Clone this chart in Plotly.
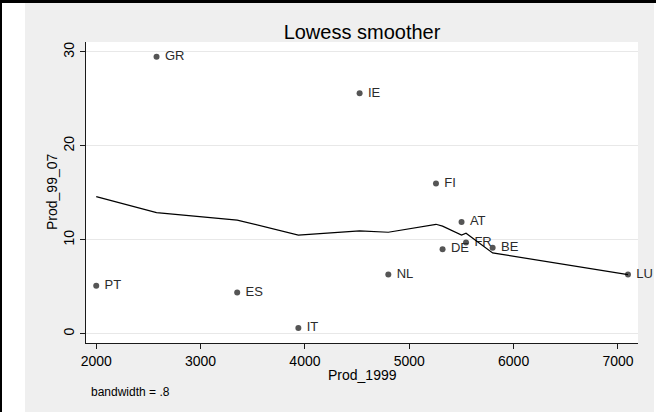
import plotly.graph_objects as go

# Labour productivity level in 1999 vs growth 1999-2007, by country
countries = ["PT", "GR", "ES", "IT", "IE", "NL", "FI", "DE", "AT", "FR", "BE", "LU"]
prod_1999 = [2000, 2578, 3351, 3937, 4524, 4799, 5256, 5319, 5501, 5544, 5799, 7096]
prod_99_07 = [5.1, 29.5, 4.4, 0.6, 25.6, 6.3, 16.0, 9.0, 11.9, 9.7, 9.15, 6.3]
# Lowess fit (bandwidth .8) evaluated at each country
lowess_fit = [14.6, 12.9, 12.1, 10.5, 10.95, 10.8, 11.65, 11.45, 10.5, 10.7, 8.6, 6.3]

x_ticks = [2000, 3000, 4000, 5000, 6000, 7000]
y_ticks = [0, 10, 20, 30]

W, H = 656, 412
ML, MR, MT, MB = 86, 18, 42, 69
PW, PH = W - ML - MR, H - MT - MB

FONT = "Liberation Sans, Arial, Helvetica, sans-serif"
BG = "#EFEFEF"


def px(x):
    return (x - ML) / PW


def py(y):
    return (H - MB - y) / PH


fig = go.Figure()

fig.add_trace(go.Scatter(
    x=prod_1999, y=prod_99_07, mode="markers+text",
    text=["\u00a0" + c for c in countries], textposition="middle right",
    textfont=dict(family=FONT, size=13, color="#2b2b2b"),
    marker=dict(size=6, color="#555555"),
    cliponaxis=False, showlegend=False,
))

fig.add_trace(go.Scatter(
    x=prod_1999, y=lowess_fit, mode="lines",
    line=dict(color="#000000", width=1.2),
    showlegend=False,
))

axis_common = dict(
    showline=True, linecolor="#1a1a1a", linewidth=1,
    ticks="outside", ticklen=5, tickwidth=1, tickcolor="#1a1a1a",
    tickfont=dict(family=FONT, size=14, color="#000000"),
    zeroline=False, mirror=False,
)

fig.update_xaxes(
    range=[1902, 7192], tickvals=x_ticks, showgrid=False, **axis_common,
)
fig.update_yaxes(
    range=[-0.99, 31.06], tickvals=y_ticks, showgrid=True,
    gridcolor="#E8E8E8", gridwidth=1, tickangle=-90, **axis_common,
)

shapes = [
    # white strip on the left edge
    dict(type="rect", xref="paper", yref="paper", layer="above",
         x0=px(0), x1=px(25), y0=py(H), y1=py(0),
         fillcolor="#FFFFFF", line=dict(width=0)),
    # white strip on the right edge
    dict(type="rect", xref="paper", yref="paper", layer="above",
         x0=px(654), x1=px(W), y0=py(H), y1=py(0),
         fillcolor="#FFFFFF", line=dict(width=0)),
    # black frame lines: top and left
    dict(type="rect", xref="paper", yref="paper", layer="above",
         x0=px(0), x1=px(W), y0=py(3), y1=py(0),
         fillcolor="#000000", line=dict(width=0)),
    dict(type="rect", xref="paper", yref="paper", layer="above",
         x0=px(0), x1=px(2), y0=py(H), y1=py(0),
         fillcolor="#000000", line=dict(width=0)),
]

annotations = [
    dict(text="Prod_1999", xref="paper", yref="paper", x=0.5, y=py(375),
         xanchor="center", yanchor="middle", showarrow=False,
         font=dict(family=FONT, size=14, color="#000000")),
    dict(text="Prod_99_07", xref="paper", yref="paper", x=px(52), y=py(192),
         xanchor="center", yanchor="middle", textangle=-90, showarrow=False,
         font=dict(family=FONT, size=14, color="#000000")),
    dict(text="bandwidth = .8", xref="paper", yref="paper", x=px(89), y=py(392),
         xanchor="left", yanchor="middle", showarrow=False,
         font=dict(family=FONT, size=12, color="#000000")),
]

fig.update_layout(
    width=W, height=H,
    margin=dict(l=ML, r=MR, t=MT, b=MB, pad=0),
    paper_bgcolor=BG, plot_bgcolor="#FFFFFF",
    title=dict(text="Lowess smoother", x=0.5, xref="paper", xanchor="center",
               y=1 - 32 / H, yref="container", yanchor="middle",
               font=dict(family=FONT, size=20, color="#000000")),
    shapes=shapes, annotations=annotations,
)

fig.write_html("out.html")
